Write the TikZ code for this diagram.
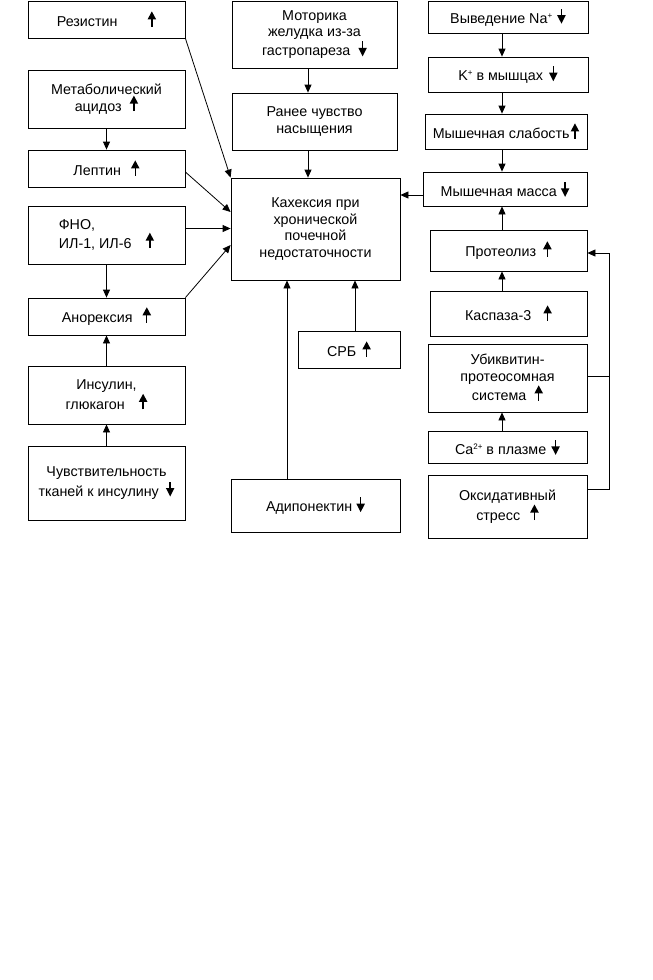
\documentclass[tikz,border=0pt]{standalone}
\usepackage{fontspec}
\setmainfont{Liberation Sans}
\usetikzlibrary{arrows.meta,calc}
\newcommand{\upa}{\tikz[baseline=0pt,x=1pt,y=1pt]{\draw[line width=1.4pt] (0,0) -- (0,8); \fill (-4.3,7.5) -- (4.3,7.5) -- (0,15.5) -- cycle;}}
\newcommand{\dna}{\tikz[baseline=0pt,x=1pt,y=1pt]{\draw[line width=1.4pt] (0,6) -- (0,14.5); \fill (-4.3,8) -- (4.3,8) -- (0,-0.5) -- cycle;}}
\newcommand{\sps}[1]{\raisebox{5pt}{\fontsize{8}{8}\selectfont #1}}
\newcommand{\bx}[7][center]{\node[box,align=#1,minimum width={(#5-#3)*1pt},minimum height={(#6-#4)*1pt}] (#2) at ({(#3+#5)/2},{(#4+#6)/2}) {#7};}
\begin{document}
\begin{tikzpicture}[x=1pt,y=-1pt,
  box/.style={draw,line width=0.8pt,inner sep=1pt,font=\fontsize{14.3}{16.5}\selectfont},
  arr/.style={line width=0.8pt,-{Triangle[length=8pt,width=7pt]}},
  ln/.style={line width=0.8pt}]
\fill[white] (0,0) rectangle (653,980);
\useasboundingbox (0,0) rectangle (653,980);
% left column
\bx{res}{28}{1}{185}{38}{Резистин\hspace{30pt}\upa}
\bx{met}{28}{70}{185}{128}{Метаболический\\ ацидоз\hspace{8pt}\upa}
\bx{lep}{28}{150}{185}{187}{Лептин\hspace{10pt}\upa}
\bx[left]{fno}{28}{206}{185}{264}{ФНО,\\ИЛ-1, ИЛ-6\hspace{14pt}\upa}
\bx{ano}{28}{298}{185}{335}{Анорексия\hspace{10pt}\upa}
\bx{ins}{28}{366}{185}{424}{Инсулин,\\ глюкагон\hspace{14pt}\upa}
\bx{chu}{28}{446}{185}{520}{Чувствительность\\ тканей к инсулину\hspace{7pt}\dna}
% middle column
\bx{mot}{232}{1}{397}{68}{Моторика\\ желудка из-за\\ гастропареза\hspace{8pt}\dna}
\bx{ran}{232}{93}{397}{150}{Ранее чувство\\ насыщения}
\bx{kah}{231}{178}{400}{280}{Кахексия при\\ хронической\\ почечной\\ недостаточности}
\bx{crb}{298}{331}{400}{368}{СРБ\hspace{6pt}\upa}
\bx{adi}{231}{479}{400}{532}{Адипонектин\hspace{4pt}\dna}
% right column
\bx{na}{428}{1}{588}{33}{Выведение Na\sps{+}\hspace{5pt}\dna}
\bx{k}{428}{57}{588}{92}{K\sps{+} в мышцах\hspace{6pt}\dna}
\bx{sla}{425}{114}{587}{149}{Мышечная слабость\hspace{1pt}\upa}
\bx{mas}{423}{172}{587}{206}{Мышечная масса\hspace{4pt}\dna}
\bx{pro}{430}{230}{587}{271}{Протеолиз\hspace{7pt}\upa}
\bx{kas}{430}{291}{587}{336}{Каспаза-3\hspace{12pt}\upa}
\bx{ubi}{428}{344}{587}{412}{Убиквитин-\\ протеосомная\\ система\hspace{8pt}\upa}
\bx{ca}{428}{431}{587}{463}{Ca\sps{2+} в плазме\hspace{5pt}\dna}
\bx{oks}{428}{475}{587}{538}{Оксидативный\\ стресс\hspace{10pt}\upa}
% left connectors
\draw[arr] (met) -- (lep);
\draw[arr] (fno) -- (ano);
\draw[arr] (ins) -- (ano);
\draw[arr] (chu) -- (ins);
\draw[arr] (res.south east) -- (kah.north west);
\draw[arr] ([yshift=-3.5pt]lep.east) -- ([yshift=17pt]kah.west);
\draw[arr] ([yshift=6.5pt]fno.east) -- ([yshift=6.5pt]fno.east -| kah.west);
\draw[arr] (ano.north east) -- ([yshift=-16pt]kah.west);
% middle connectors
\draw[arr] ([xshift=-6.5pt]mot.south) -- ([xshift=-6.5pt]mot.south |- ran.north);
\draw[arr] ([xshift=-6.5pt]ran.south) -- ([xshift=-6.5pt]ran.south |- kah.north);
\draw[arr] ([xshift=-28.5pt]adi.north) -- ([xshift=-28.5pt]adi.north |- kah.south);
\draw[arr] ([xshift=6pt]crb.north) -- ([xshift=6pt]crb.north |- kah.south);
% right connectors
\coordinate (rx) at (502,0);
\draw[arr] (na.south -| rx) -- (k.north -| rx);
\draw[arr] (k.south -| rx) -- (sla.north -| rx);
\draw[arr] (sla.south -| rx) -- (mas.north -| rx);
\draw[arr] (pro.north -| rx) -- (mas.south -| rx);
\draw[arr] (kas.north -| rx) -- (pro.south -| rx);
\draw[arr] (ca.north -| rx) -- (ubi.south -| rx);
\coordinate (my) at (0,195);
\draw[arr] (mas.west |- my) -- (kah.east |- my);
\coordinate (fbx) at (609,0);
\coordinate (py) at (0,253);
\draw[arr] ([yshift=17.5pt]oks.east) -| (fbx |- py) -- (pro.east |- py);
\draw[ln] ([yshift=1.5pt]ubi.east) -- ([yshift=1.5pt]ubi.east -| fbx);
\end{tikzpicture}
\end{document}
